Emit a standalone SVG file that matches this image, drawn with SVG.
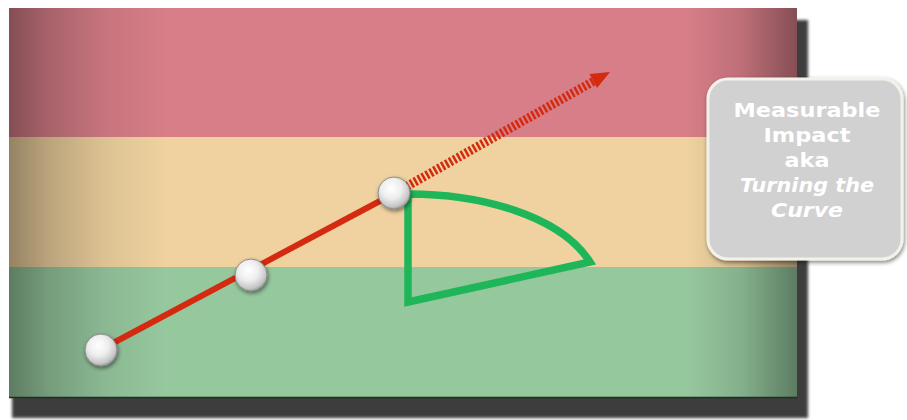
<svg xmlns="http://www.w3.org/2000/svg" width="907" height="420" viewBox="0 0 907 420">
  <defs>
    <linearGradient id="edge" x1="0" y1="0" x2="1" y2="0">
      <stop offset="0" stop-color="#000" stop-opacity="0.38"/>
      <stop offset="0.05" stop-color="#000" stop-opacity="0.22"/>
      <stop offset="0.12" stop-color="#000" stop-opacity="0.08"/>
      <stop offset="0.2" stop-color="#000" stop-opacity="0"/>
      <stop offset="0.86" stop-color="#000" stop-opacity="0"/>
      <stop offset="0.93" stop-color="#000" stop-opacity="0.12"/>
      <stop offset="1" stop-color="#000" stop-opacity="0.38"/>
    </linearGradient>
    <radialGradient id="ball" cx="0.42" cy="0.36" r="0.7">
      <stop offset="0" stop-color="#ffffff"/>
      <stop offset="0.45" stop-color="#eeeeee"/>
      <stop offset="0.8" stop-color="#c6c6c6"/>
      <stop offset="1" stop-color="#8a8a8a"/>
    </radialGradient>
    <filter id="soft" x="-40%" y="-40%" width="180%" height="180%">
      <feGaussianBlur in="SourceAlpha" stdDeviation="2"/>
      <feOffset dx="1" dy="2" result="b"/>
      <feComponentTransfer><feFuncA type="linear" slope="0.5"/></feComponentTransfer>
      <feMerge><feMergeNode/><feMergeNode in="SourceGraphic"/></feMerge>
    </filter>
    <filter id="blur1"><feGaussianBlur stdDeviation="1.5"/></filter>
  </defs>
  <style>
    .lbl { font-family: "DejaVu Sans", "Liberation Sans", sans-serif; font-size: 20px; fill: #ffffff; text-anchor: middle; font-weight: bold; }
    .it { font-style: italic; }
    .ball { fill: url(#ball); stroke: #8c8c8c; stroke-width: 1; filter: url(#soft); }
  </style>

  <!-- panel shadow -->
  <rect x="12" y="20" width="796" height="398" fill="#3e3e3e" filter="url(#blur1)"/>

  <!-- panel bands -->
  <g id="panel">
    <rect x="9" y="8" width="788" height="130" fill="#d77e88"/>
    <rect x="9" y="137" width="788" height="131" fill="#efd29f"/>
    <rect x="9" y="267" width="788" height="131" fill="#96c89e"/>
    <rect x="9" y="8" width="788" height="390" fill="url(#edge)"/>
    <line x1="9" y1="397.5" x2="797" y2="397.5" stroke="#1f2f22" stroke-width="1.5"/>
  </g>

  <!-- green triangle/curve -->
  <g id="angle">
    <path d="M408,194 C480,194 560,215 590,262 L408,302 Z" fill="none" stroke="#1fb65a" stroke-width="7.5" stroke-linejoin="miter"/>
  </g>

  <!-- connectors -->
  <g id="connectors">
    <line x1="100" y1="350" x2="395" y2="193" stroke="#d42a10" stroke-width="6"/>
    <line x1="395" y1="193" x2="594" y2="81" stroke="#d42a10" stroke-width="9" stroke-dasharray="2.5 2"/>
    <polygon points="610,72 597,88 589.5,74" fill="#d42a10"/>
  </g>

  <!-- points -->
  <g id="p1"><circle class="ball" cx="101" cy="350" r="16"/></g>
  <g id="p2"><circle class="ball" cx="251" cy="275" r="16"/></g>
  <g id="p3"><circle class="ball" cx="394" cy="193" r="16"/></g>

  <!-- label box -->
  <g id="label">
    <rect x="708" y="79" width="194" height="180" rx="20" ry="20" fill="#d1d1d1" stroke="#f4f1ea" stroke-width="3" filter="url(#soft)"/>
    <text class="lbl" x="807" y="117" textLength="147" lengthAdjust="spacingAndGlyphs">Measurable</text>
    <text class="lbl" x="807" y="142" textLength="87" lengthAdjust="spacingAndGlyphs">Impact</text>
    <text class="lbl" x="807" y="167" textLength="45" lengthAdjust="spacingAndGlyphs">aka</text>
    <text class="lbl it" x="807" y="192" textLength="134" lengthAdjust="spacingAndGlyphs">Turning the</text>
    <text class="lbl it" x="807" y="217" textLength="72" lengthAdjust="spacingAndGlyphs">Curve</text>
  </g>
</svg>
